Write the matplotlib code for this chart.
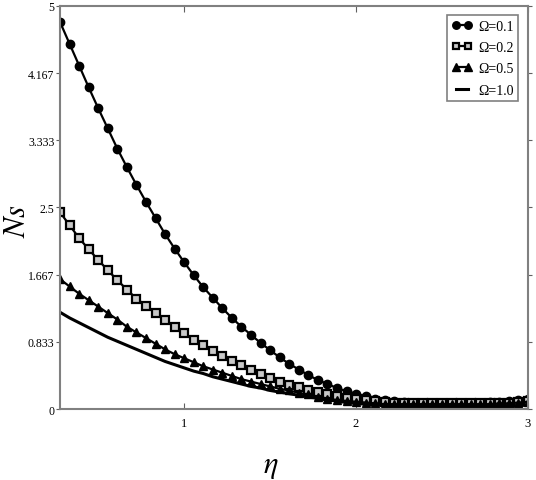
import numpy as np
import matplotlib
matplotlib.use("Agg")
import matplotlib.pyplot as plt

plt.rcParams['font.family'] = ['Liberation Serif', 'DejaVu Serif']
plt.rcParams['mathtext.fontset'] = 'stix'

eta = np.linspace(0.28, 3.0, 50)

ns_01 = [4.80, 4.53, 4.26, 3.99, 3.73, 3.48, 3.23, 3.00, 2.78, 2.57,
         2.37, 2.17, 1.99, 1.82, 1.66, 1.51, 1.38, 1.25, 1.13, 1.02,
         0.92, 0.82, 0.73, 0.64, 0.56, 0.49, 0.42, 0.36, 0.31, 0.26,
         0.22, 0.19, 0.16, 0.13, 0.11, 0.10, 0.09, 0.08, 0.08, 0.08,
         0.08, 0.08, 0.08, 0.08, 0.08, 0.09, 0.09, 0.10, 0.11, 0.12]
ns_02 = [2.44, 2.28, 2.12, 1.98, 1.85, 1.72, 1.60, 1.48, 1.37, 1.28,
         1.19, 1.10, 1.02, 0.94, 0.86, 0.79, 0.72, 0.66, 0.60, 0.54,
         0.48, 0.43, 0.38, 0.34, 0.30, 0.27, 0.24, 0.21, 0.18, 0.16,
         0.14, 0.12, 0.11, 0.10, 0.09, 0.08, 0.07, 0.07, 0.07, 0.07,
         0.07, 0.07, 0.07, 0.07, 0.07, 0.07, 0.08, 0.08, 0.09, 0.10]
ns_05 = [1.61, 1.52, 1.43, 1.35, 1.27, 1.19, 1.11, 1.02, 0.95, 0.88,
         0.81, 0.74, 0.68, 0.63, 0.58, 0.53, 0.49, 0.45, 0.41, 0.37,
         0.34, 0.31, 0.28, 0.25, 0.23, 0.20, 0.18, 0.15, 0.13, 0.11,
         0.10, 0.09, 0.08, 0.07, 0.06, 0.06, 0.06, 0.06, 0.06, 0.06,
         0.06, 0.06, 0.06, 0.06, 0.06, 0.06, 0.07, 0.07, 0.08, 0.09]
ns_10 = [1.20, 1.13, 1.07, 1.01, 0.95, 0.89, 0.84, 0.79, 0.74, 0.69,
         0.64, 0.59, 0.55, 0.51, 0.47, 0.44, 0.40, 0.37, 0.34, 0.31,
         0.28, 0.26, 0.23, 0.21, 0.19, 0.17, 0.15, 0.13, 0.11, 0.10,
         0.08, 0.07, 0.06, 0.05, 0.05, 0.04, 0.04, 0.04, 0.03, 0.03,
         0.03, 0.03, 0.03, 0.03, 0.03, 0.03, 0.04, 0.04, 0.04, 0.05]

labels = ['Ω=0.1', 'Ω=0.2', 'Ω=0.5', 'Ω=1.0']
yticks = [0, 0.833, 1.667, 2.5, 3.333, 4.167, 5]
ytick_labels = ['0', '0.833', '1.667', '2.5', '3.333', '4.167', '5']
xticks = [1, 2, 3]
xtick_labels = ['1', '2', '3']

fig = plt.figure(figsize=(5.36, 4.81), dpi=100)
ax = fig.add_axes([0.112, 0.1476, 0.873, 0.838])

ax.plot(eta, ns_01, color='black', lw=1.6, marker='o', ms=6,
        mfc='black', mec='black', label=labels[0])
ax.plot(eta, ns_02, color='black', lw=1.6, marker='s', ms=5.5,
        mfc='#c8c8c8', mec='black', mew=1.6, label=labels[1])
ax.plot(eta, ns_05, color='black', lw=1.6, marker='^', ms=6,
        mfc='black', mec='black', label=labels[2])
ax.plot(eta, ns_10, color='black', lw=2.2, label=labels[3])

ax.set_xlim(0.28, 3.0)
ax.set_ylim(0, 5)
ax.set_yticks(yticks)
ax.set_yticklabels(ytick_labels)
ax.set_xticks(xticks)
ax.set_xticklabels(xtick_labels)

for s in ax.spines.values():
    s.set_color('#808080')
    s.set_linewidth(1.5)

ax.tick_params(axis='x', direction='in', length=4, color='#606060',
               labelsize=9, top=True, pad=6)
ax.tick_params(axis='y', direction='out', length=3, color='#606060',
               labelsize=8.5, right=True, pad=1)

ax.set_xlabel('$\\eta$', fontsize=22)
ax.set_ylabel('$Ns$', fontsize=22)
ax.xaxis.set_label_coords(0.45, -0.105)
ax.yaxis.set_label_coords(-0.06, 0.47)

leg = ax.legend(loc='upper right', bbox_to_anchor=(0.985, 0.985),
                fontsize=10, frameon=True, fancybox=False, numpoints=2,
                handlelength=1.5, handletextpad=0.4, borderpad=0.35,
                labelspacing=0.6, markerscale=0.9, borderaxespad=0.2)
leg.get_frame().set_edgecolor('#606060')
leg.get_frame().set_linewidth(1.2)

fig.savefig('out.png', dpi=100)
